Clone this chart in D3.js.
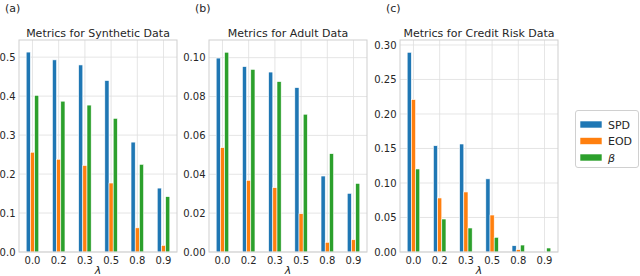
<!DOCTYPE html>
<html>
<head>
<meta charset="utf-8">
<script src="https://d3js.org/d3.v7.min.js"></script>
<style>
  body { margin: 0; background: #fff; }
  svg text { font-family: "DejaVu Sans", sans-serif; fill: #262626; }
</style>
</head>
<body>
<svg width="640" height="276"></svg>
<script>
// lambda values on the x axis
var lambdas = ["0.0", "0.2", "0.3", "0.5", "0.8", "0.9"];
var seriesNames = ["SPD", "EOD", "β"];
var colors = ["#1f77b4", "#ff7f0e", "#2ca02c"];

// (a) synthetic data
var synthSPD  = [0.513, 0.493, 0.480, 0.440, 0.282, 0.164];
var synthEOD  = [0.256, 0.238, 0.222, 0.177, 0.062, 0.017];
var synthBeta = [0.402, 0.387, 0.377, 0.343, 0.225, 0.142];

// (b) adult data
var adultSPD  = [0.0998, 0.0954, 0.0926, 0.0846, 0.0391, 0.0302];
var adultEOD  = [0.0537, 0.0369, 0.0331, 0.0197, 0.0050, 0.0063];
var adultBeta = [0.1028, 0.0940, 0.0877, 0.0709, 0.0506, 0.0353];

// (c) credit risk data
var creditSPD  = [0.2894, 0.154, 0.1565, 0.106, 0.0091, 0.0];
var creditEOD  = [0.2208, 0.0783, 0.087, 0.0536, 0.0034, 0.0];
var creditBeta = [0.1203, 0.0478, 0.0348, 0.0213, 0.0101, 0.0058];

var titles = ["Metrics for Synthetic Data", "Metrics for Adult Data", "Metrics for Credit Risk Data"];
var letters = ["(a)", "(b)", "(c)"];
var yMax = [0.544, 0.1091, 0.3072];
var yTicks = [[0, 0.1, 0.2, 0.3, 0.4, 0.5],
              [0, 0.02, 0.04, 0.06, 0.08, 0.10],
              [0, 0.05, 0.10, 0.15, 0.20, 0.25, 0.30]];
var yFormats = [".1f", ".2f", ".2f"];

var panels = [
  [synthSPD, synthEOD, synthBeta],
  [adultSPD, adultEOD, adultBeta],
  [creditSPD, creditEOD, creditBeta]
];

var svg = d3.select("svg");
var lefts = [19, 209, 400];
var pw = 158, plotTop = 40, plotBottom = 252;
var barW = 0.16;
var gridColor = "#dedede";

panels.forEach(function(series, p) {
  var x = d3.scaleLinear().domain([-0.514, 5.514]).range([lefts[p], lefts[p] + pw]);
  var y = d3.scaleLinear().domain([0, yMax[p]]).range([plotBottom, plotTop]);
  var g = svg.append("g");

  // grid
  g.selectAll(".hg").data(yTicks[p]).enter().append("line")
    .attr("x1", lefts[p]).attr("x2", lefts[p] + pw)
    .attr("y1", function(d) { return y(d); }).attr("y2", function(d) { return y(d); })
    .style("stroke", gridColor).style("stroke-width", 0.8);
  g.selectAll(".vg").data(lambdas).enter().append("line")
    .attr("x1", function(d, i) { return x(i); }).attr("x2", function(d, i) { return x(i); })
    .attr("y1", plotTop).attr("y2", plotBottom)
    .style("stroke", gridColor).style("stroke-width", 0.8);

  // bars
  series.forEach(function(vals, s) {
    g.selectAll(".bar" + s).data(vals).enter().append("rect")
      .attr("x", function(d, i) { return x(i + (s - 1) * barW - barW / 2); })
      .attr("width", x(barW) - x(0))
      .attr("y", function(d) { return y(d); })
      .attr("height", function(d) { return plotBottom - y(d); })
      .style("fill", colors[s])
      .style("stroke", "#fff")
      .style("stroke-width", 0.6)
      .style("display", function(d) { return d > 0 ? null : "none"; });
  });

  // frame
  g.append("rect")
    .attr("x", lefts[p]).attr("y", plotTop).attr("width", pw).attr("height", plotBottom - plotTop)
    .style("fill", "none").style("stroke", "#cfcfcf").style("stroke-width", 1);

  // y tick labels
  var fmt = d3.format(yFormats[p]);
  g.selectAll(".yl").data(yTicks[p]).enter().append("text")
    .attr("x", lefts[p] - 3.5)
    .attr("y", function(d) { return y(d) + 3.6; })
    .attr("text-anchor", "end")
    .style("font-size", "10px")
    .text(function(d) { return fmt(d); });

  // x tick labels
  g.selectAll(".xl").data(lambdas).enter().append("text")
    .attr("x", function(d, i) { return x(i); })
    .attr("y", 264)
    .attr("text-anchor", "middle")
    .style("font-size", "10px")
    .text(function(d) { return d; });

  // axis label
  g.append("text")
    .attr("x", lefts[p] + pw / 2).attr("y", 274)
    .attr("text-anchor", "middle")
    .style("font-size", "11px").style("font-style", "italic")
    .text("λ");

  // title
  g.append("text")
    .attr("x", lefts[p] + pw / 2).attr("y", 37)
    .attr("text-anchor", "middle")
    .style("font-size", "11px")
    .text(titles[p]);

  // panel letter
  g.append("text")
    .attr("x", lefts[p] - 14).attr("y", 12)
    .style("font-size", "11px")
    .text(letters[p]);
});

// legend
var lg = svg.append("g");
lg.append("rect")
  .attr("x", 575.5).attr("y", 110.5).attr("width", 63).attr("height", 57)
  .attr("rx", 2.5)
  .style("fill", "#fff").style("stroke", "#d0d0d0").style("stroke-width", 1);
seriesNames.forEach(function(name, s) {
  lg.append("rect")
    .attr("x", 580).attr("y", 121 + s * 16.5).attr("width", 22).attr("height", 7)
    .style("fill", colors[s]).style("stroke", "#fff").style("stroke-width", 0.6);
  lg.append("text")
    .attr("x", 608).attr("y", 128.5 + s * 16.5)
    .style("font-size", "11px")
    .style("font-style", s === 2 ? "italic" : "normal")
    .text(name);
});
</script>
</body>
</html>
